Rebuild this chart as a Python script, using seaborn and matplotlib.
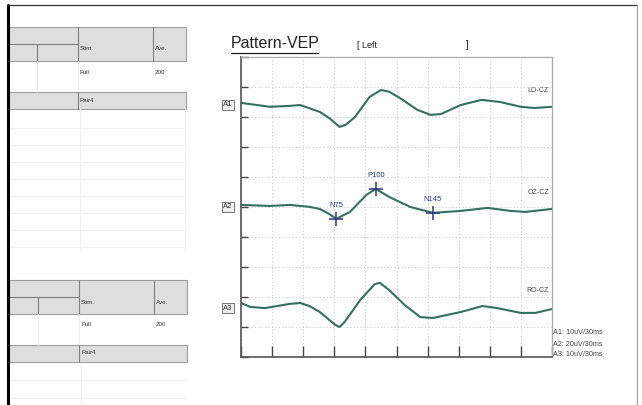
import numpy as np
import pandas as pd
import matplotlib
matplotlib.use("Agg")
import matplotlib.pyplot as plt
import seaborn as sns
from matplotlib.patches import Rectangle

# amplitudes (uV), time in ms
t_lo = [0, 28, 47, 57, 76, 86, 95, 101, 110, 124, 135, 143, 153, 170, 183, 193, 212, 232, 250, 270, 283, 300]
uv_lo = [0, -1.3, -1.0, -0.7, -3.0, -5.3, -8.0, -7.3, -4.7, 2.0, 4.3, 3.7, 1.7, -2.3, -4.0, -3.7, -0.7, 1.0, 0.3, -1.3, -1.7, -1.3]

t_oz = [0, 28, 47, 66, 76, 85, 92, 105, 121, 130, 143, 163, 185, 212, 238, 260, 274, 300]
uv_oz = [0, -0.7, 0, -1.3, -2.7, -6.0, -9.3, -4.7, 6.7, 10.7, 5.3, -1.3, -5.3, -4.0, -2.0, -4.0, -4.7, -2.7]

t_ro = [0, 9, 23, 47, 57, 66, 76, 91, 95, 100, 115, 129, 134, 143, 158, 173, 185, 212, 233, 247, 270, 284, 300]
uv_ro = [0, -1.3, -1.7, -0.3, 0, -1.0, -3.0, -7.3, -8.0, -6.3, 1.0, 6.3, 6.7, 4.3, -0.7, -4.7, -5.0, -3.0, -1.0, -1.7, -3.3, -3.3, -2.0]

channels = ["LO-CZ", "OZ-CZ", "RO-CZ"]
ch_ids = ["A1", "A2", "A3"]
sens_uv = [10, 20, 10]  # uV per division
sweep = "30ms"

peak_names = ["N75", "P100", "N145"]
peak_t = [92, 130, 185]
peak_uv = [-9.3, 10.7, -5.3]

# left hand table texts
head_cols = ["Stim.", "Ave."]
row_vals = ["Full", "200"]
group_lbl = "Pair4"

# layout
base_div = [8.47, 5.07, 1.8]
green = "#34705f"
blue = "#2b3a80"

sns.set_style("white")
plt.rcParams["font.family"] = ["Liberation Sans", "DejaVu Sans"]

fig = plt.figure(figsize=(6.42, 4.05), dpi=100)
fig.patch.set_facecolor("white")

bg = fig.add_axes([0, 0, 1, 1], zorder=0)
bg.set_xlim(0, 642)
bg.set_ylim(405, 0)
bg.axis("off")


def draw_table(y0, dx):
    ec = "#a0a0a0"
    right = 186 + dx
    bg.add_patch(Rectangle((8, y0), right - 8, 34, fc="#dedede", ec=ec, lw=0.8))
    bg.plot([8, 78 + dx], [y0 + 17, y0 + 17], color="#808080", lw=0.8)
    bg.plot([37 + dx, 37 + dx], [y0 + 17, y0 + 34], color="#808080", lw=0.8)
    bg.plot([78 + dx, 78 + dx], [y0, y0 + 34], color="#808080", lw=0.8)
    bg.plot([153 + dx, 153 + dx], [y0, y0 + 34], color="#808080", lw=0.8)
    bg.text(80 + dx, y0 + 22, head_cols[0], fontsize=4.5, va="center", color="#333")
    bg.text(155 + dx, y0 + 22, head_cols[1], fontsize=4.5, va="center", color="#333")
    # value row
    bg.plot([37 + dx, 37 + dx], [y0 + 34, y0 + 65], color="#e8e8e8", lw=0.6)
    bg.plot([78 + dx, 78 + dx], [y0 + 34, y0 + 65], color="#e8e8e8", lw=0.6)
    bg.text(80 + dx, y0 + 45, row_vals[0], fontsize=4.5, va="center", color="#333")
    bg.text(155 + dx, y0 + 45, row_vals[1], fontsize=4.5, va="center", color="#333")
    # group row
    bg.add_patch(Rectangle((8, y0 + 65), right - 8, 17, fc="#dedede", ec=ec, lw=0.8))
    bg.plot([78 + dx, 78 + dx], [y0 + 65, y0 + 82], color="#808080", lw=0.8)
    bg.text(80 + dx, y0 + 73, group_lbl, fontsize=4.5, va="center", color="#333")


draw_table(27, 0)
draw_table(280, 1)
# faint empty rows under the tables
for yy in np.arange(128, 250, 17):
    bg.plot([8, 185], [yy, yy], color="#efefef", lw=0.7)
bg.plot([80, 80], [108, 250], color="#efefef", lw=0.7)
bg.plot([185, 185], [108, 250], color="#efefef", lw=0.7)
for yy in [380, 398]:
    bg.plot([8, 186], [yy, yy], color="#efefef", lw=0.7)
bg.plot([81, 81], [363, 405], color="#efefef", lw=0.7)

# outer frame on top of the table lines
bg.plot([7.5, 7.5], [5, 405], color="black", lw=2.2, zorder=5)
bg.plot([7, 637], [5, 5], color="#333333", lw=0.9, zorder=5)
bg.plot([637, 637], [5, 405], color="#999999", lw=0.8, zorder=5)

# title
bg.text(231, 44, "Pattern-VEP", fontsize=11.5, va="center", ha="left", color="#222")
bg.plot([231, 318], [52.5, 52.5], color="#222", lw=0.9)
bg.text(357, 45, "[ Left", fontsize=6.5, va="center", color="#222")
bg.text(466, 45, "]", fontsize=7, va="center", color="#222")

# waveform axes
ax = fig.add_axes([241 / 642, 48 / 405, 311 / 642, 300 / 405], zorder=1)
ax.set_facecolor("none")

frames = []
for name, t, uv, s, b in zip(channels, [t_lo, t_oz, t_ro], [uv_lo, uv_oz, uv_ro], sens_uv, base_div):
    frames.append(pd.DataFrame({"t": t, "y": b + np.array(uv) / s, "ch": name}))
df = pd.concat(frames, ignore_index=True)

sns.lineplot(data=df, x="t", y="y", hue="ch", palette=[green] * 3, estimator=None,
             sort=False, legend=False, lw=1.5, ax=ax)

ax.set_xlim(0, 300)
ax.set_ylim(0, 10)
ax.set_xticks(np.arange(0, 301, 30))
ax.set_yticks(np.arange(0, 11, 1))
ax.set_xticklabels([])
ax.set_yticklabels([])
ax.set_xlabel("")
ax.set_ylabel("")
ax.grid(True, color="#c4c4c4", linestyle=(0, (1, 2.5)), lw=0.7)
ax.tick_params(axis="x", direction="in", length=8, width=1, color="#444", bottom=True)
ax.tick_params(axis="y", direction="in", length=5, width=1, color="#444", left=True)
for side in ["left", "bottom"]:
    ax.spines[side].set_color("#555555")
    ax.spines[side].set_linewidth(1.2)
for side in ["top", "right"]:
    ax.spines[side].set_color("#aaaaaa")
    ax.spines[side].set_linewidth(0.9)

# peak markers on OZ-CZ
for nm, pt, pu in zip(peak_names, peak_t, peak_uv):
    py = base_div[1] + pu / sens_uv[1]
    ax.plot(pt, py, marker="+", ms=10, mew=1.1, color=blue)
    ax.annotate(nm, (pt, py), xytext=(0, 7), textcoords="offset points",
                ha="center", va="bottom", fontsize=5.5, color=blue)

# channel labels
lbl_y = [105, 207, 308]
for cid, yy in zip(ch_ids, lbl_y):
    bg.text(228, yy, cid, fontsize=5.5, ha="center", va="center", color="#333",
            bbox=dict(boxstyle="square,pad=0.2", fc="#eeeeee", ec="#777777", lw=0.7))
name_y = [91, 192, 291]
for nm, yy in zip(channels, name_y):
    bg.text(549, yy, nm, fontsize=5, ha="right", va="center", color="#444")

# sensitivity legend
for i, (cid, s) in enumerate(zip(ch_ids, sens_uv)):
    bg.text(553, 333 + 11 * i, f"{cid}: {s}uV/{sweep}", fontsize=5.2, ha="left", va="center", color="#444")

fig.savefig("out.png", dpi=100)
